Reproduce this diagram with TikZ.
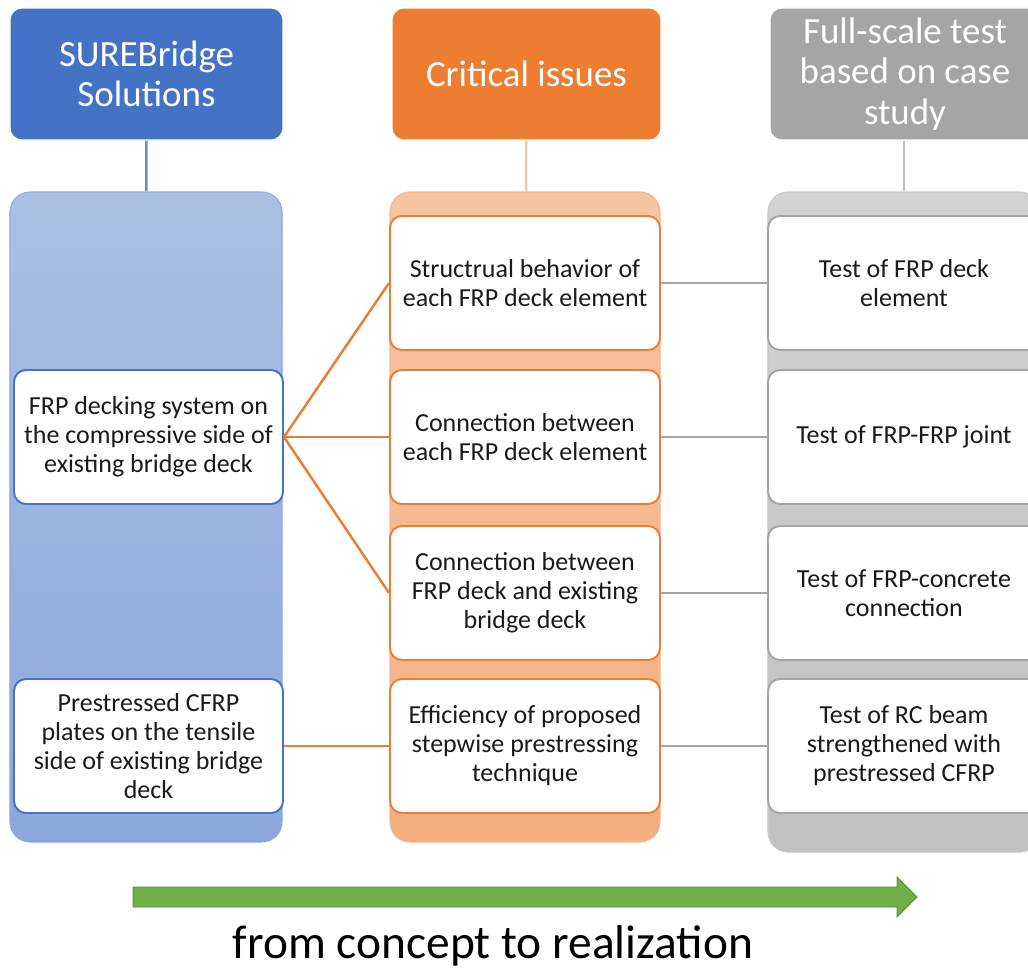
\documentclass[tikz,border=0pt]{standalone}
\usepackage{fontspec}
\setmainfont{Carlito}
\usepackage{tikz}
\usetikzlibrary{arrows.meta,calc,positioning}
\definecolor{koyuMavi}{HTML}{4472C4}
\definecolor{koyuTuruncu}{HTML}{ED7D31}
\definecolor{koyuGri}{HTML}{A5A5A5}
\definecolor{yaziGri}{HTML}{1A1A1A}
\definecolor{okYesil}{HTML}{70AD47}
\definecolor{okKenar}{HTML}{5B8C3A}
\begin{document}
\begin{tikzpicture}[every node/.style={font=\fontsize{14.8}{16.5}\selectfont, text=yaziGri},
  baslik/.style={rounded corners=0.24cm, minimum height=2.64cm, align=center, text=white, font=\fontsize{21}{23}\selectfont, draw=white, line width=0.6pt},
  sutun/.style={rounded corners=0.4cm, minimum height=13cm, line width=0.6pt},
  kutu/.style={rounded corners=0.24cm, fill=white, minimum height=2.68cm, align=center, line width=1.1pt},
  bag/.style={line width=1.4pt}]
\useasboundingbox (0,0) rectangle (20.56,-19.4);
% basliklar
\node[baslik,fill=koyuMavi,minimum width=5.46cm] (hSol) at (2.93,-1.48) {SUREBridge\\Solutions};
\node[baslik,fill=koyuTuruncu,minimum width=5.38cm] (hOrta) at (10.53,-1.48) {Critical issues};
\node[baslik,fill=koyuGri,minimum width=5.4cm] (hSag) at (18.1,-1.48) {Full-scale test\\based on case\\study};
% sutunlar
\node[sutun,draw=koyuMavi!60,top color=koyuMavi!45,bottom color=koyuMavi!62,minimum width=5.44cm] (cSol) at (2.92,-10.34) {};
\node[sutun,draw=koyuTuruncu!55,top color=koyuTuruncu!45,bottom color=koyuTuruncu!62,minimum width=5.4cm] (cOrta) at (10.5,-10.34) {};
\node[sutun,draw=koyuGri!60,top color=koyuGri!50,bottom color=koyuGri!70,minimum width=5.44cm,minimum height=13.2cm] (cSag) at (18.08,-10.44) {};
\draw[bag,draw=koyuMavi!80] (hSol) -- (cSol);
\draw[bag,draw=koyuTuruncu!45] (hOrta) -- (cOrta);
\draw[bag,draw=koyuGri!70] (hSag.south -| cSag.north) -- (cSag);
% sol kutular
\node[kutu,draw=koyuMavi,minimum width=5.38cm] (s1) at (2.97,-8.74) {FRP decking system on\\the compressive side of\\existing bridge deck};
\node[kutu,draw=koyuMavi,minimum width=5.38cm] (s2) at (2.97,-14.92) {Prestressed CFRP\\plates on the tensile\\side of existing bridge\\deck};
% orta kutular
\node[kutu,draw=koyuTuruncu,minimum width=5.4cm] (o1) at (10.5,-5.66) {Structrual behavior of\\each FRP deck element};
\node[kutu,draw=koyuTuruncu,minimum width=5.4cm] (o2) at (10.5,-8.74) {Connection between\\each FRP deck element};
\node[kutu,draw=koyuTuruncu,minimum width=5.4cm] (o3) at (10.5,-11.86) {Connection between\\FRP deck and existing\\bridge deck};
\node[kutu,draw=koyuTuruncu,minimum width=5.4cm] (o4) at (10.5,-14.92) {Efficiency of proposed\\stepwise prestressing\\technique};
% sag kutular
\node[kutu,draw=koyuGri,minimum width=5.44cm] (g1) at (18.08,-5.66) {Test of FRP deck\\element};
\node[kutu,draw=koyuGri,minimum width=5.44cm] (g2) at (18.08,-8.74) {Test of FRP-FRP joint};
\node[kutu,draw=koyuGri,minimum width=5.44cm] (g3) at (18.08,-11.86) {Test of FRP-concrete\\connection};
\node[kutu,draw=koyuGri,minimum width=5.44cm] (g4) at (18.08,-14.92) {Test of RC beam\\strengthened with\\prestressed CFRP};
% baglantilar
\draw[bag,koyuTuruncu] (s1.east) -- (o1.west);
\draw[bag,koyuTuruncu] (s1.east) -- (o2.west);
\draw[bag,koyuTuruncu] (s1.east) -- (o3.west);
\draw[bag,koyuTuruncu] (s2.east) -- (o4.west);
\foreach \i in {1,...,4} {
  \draw[bag,koyuGri] (o\i.east) -- (g\i.west);
}
% ok
\draw[fill=okYesil,draw=okKenar,line width=0.5pt] (2.66,-17.74) -- (17.94,-17.74) -- (17.94,-17.54) -- (18.34,-17.94) -- (17.94,-18.34) -- (17.94,-18.14) -- (2.66,-18.14) -- cycle;
\node[font=\fontsize{27}{30}\selectfont, text=black] (etiket) at (9.86,-18.92) {from concept to realization};
\end{tikzpicture}
\end{document}
